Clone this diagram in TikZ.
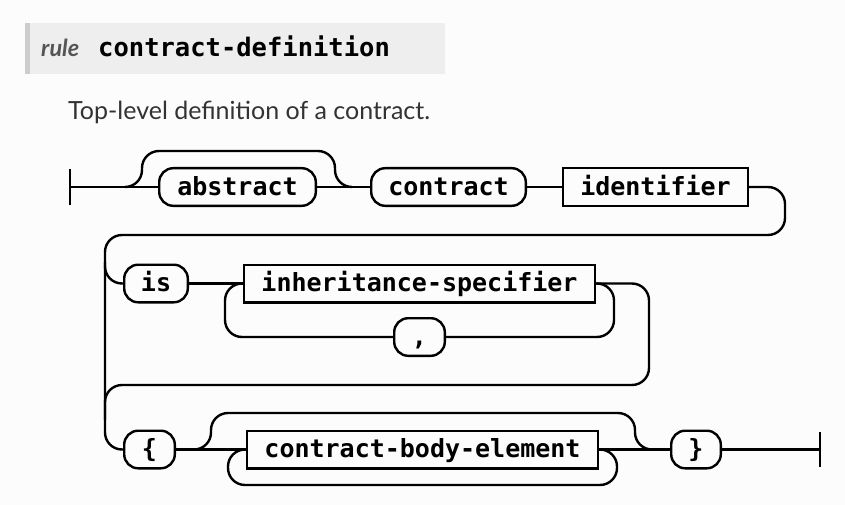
\documentclass[tikz,border=0pt]{standalone}
\usepackage{fontspec}
\newfontfamily\monof{DejaVu Sans Mono}
\newfontfamily\latof{Lato}
\definecolor{bgc}{RGB}{252,252,252}
\definecolor{hdr}{RGB}{238,238,238}
\definecolor{hdrbar}{RGB}{204,204,204}
\definecolor{txt}{RGB}{51,51,51}
\definecolor{rulec}{RGB}{85,85,85}
\begin{document}
\begin{tikzpicture}[x=1pt,y=-1pt,
  rr/.style={line width=2.4pt, line join=round, rounded corners=17pt},
  bar/.style={line width=2.4pt},
  box/.style={draw, line width=2.4pt, minimum height=37.6pt, inner sep=0pt,
    text height=20pt, text depth=4pt,
    font=\monof\bfseries\fontsize{25}{27}\selectfont},
  term/.style={box, rounded corners=14pt},
  nonterm/.style={box},
]
\useasboundingbox[fill=bgc] (0,0) rectangle (845,505);
% header
\fill[hdr] (25,23) rectangle (445,74);
\fill[hdrbar] (25,23) rectangle (30,74);
\node[anchor=base west, inner sep=0pt, text=rulec, font=\latof\bfseries\itshape\fontsize{23.5}{26}\selectfont] (rulelbl) at (41,57) {rule};
\node[anchor=base west, inner sep=0pt, font=\monof\bfseries\fontsize{25.5}{27}\selectfont] (rulename) at (98,57) {contract-definition};
\node[anchor=base west, inner sep=0pt, text=txt, font=\latof\fontsize{25}{28}\selectfont] (desc) at (68,120) {Top-level definition of a contract.};

% nodes
\node[term, minimum width=156.6pt] (abstract) at (237.5,187) {abstract};
\node[term, minimum width=154.6pt] (contract) at (448.5,187) {contract};
\node[nonterm, minimum width=184.6pt] (identifier) at (655.5,187) {identifier};
\node[term, minimum width=63.6pt] (is) at (156,283.5) {is};
\node[nonterm, minimum width=350.6pt] (inh) at (419.5,283.5) {inheritance-specifier};
\node[term, minimum width=50.6pt] (comma) at (419.5,337) {,};
\node[term, minimum width=50.6pt] (lbrace) at (149.5,449.5) {\{};
\node[nonterm, minimum width=350.6pt] (body) at (422.5,449.5) {contract-body-element};
\node[term, minimum width=49.6pt] (rbrace) at (696,449.5) {\}};

% coordinates
\coordinate (st) at (70,187);
\coordinate (b1) at (125,187);
\coordinate (m1) at (352,187);
\coordinate (j2) at (105,262);
\coordinate (j3) at (105,420);
\coordinate (b3) at (194,449.5);
\coordinate (m3) at (652,449.5);
\coordinate (en) at (820,449.5);

% row 1
\draw[bar] (st) ++(0,-18) -- ++(0,36);
\draw[rr] (st) -- (abstract.west);
\draw[rr] (b1) -- ++(17,0) -- ++(0,-36) -- ++(193,0) -- ++(0,36) -- (m1);
\draw[rr] (abstract.east) -- (contract.west);
\draw[rr] (contract.east) -- (identifier.west);
\draw[rr] (identifier.east) -- (785,187) -- (785,235) -- (105,235) -- (105,449.5) -- (lbrace.west);
% row 2
\draw[rr] (j2) -- (105,283.5) -- (is.west);
\draw[rr] (is.east) -- (inh.west);
\draw[rr] (inh.east) -- (614,283.5) -- (614,337) -- (comma.east);
\draw[rr] (comma.west) -- (225,337) -- (225,283.5) -- (inh.west);
\draw[rr] (inh.east) -- (649,283.5) -- (649,385) -- (105,385) -- (j3);
% row 3
\draw[rr] (lbrace.east) -- (body.west);
\draw[rr] (b3) -- (211,449.5) -- (211,413) -- (635,413) -- (635,449.5) -- (m3);
\draw[rr] (body.east) -- (617,449.5) -- (617,485) -- (228,485) -- (228,449.5) -- (body.west);
\draw[rr] (body.east) -- (rbrace.west);
\draw[rr] (rbrace.east) -- (en);
\draw[bar] (en) ++(0,-17.5) -- ++(0,35);
\end{tikzpicture}
\end{document}
